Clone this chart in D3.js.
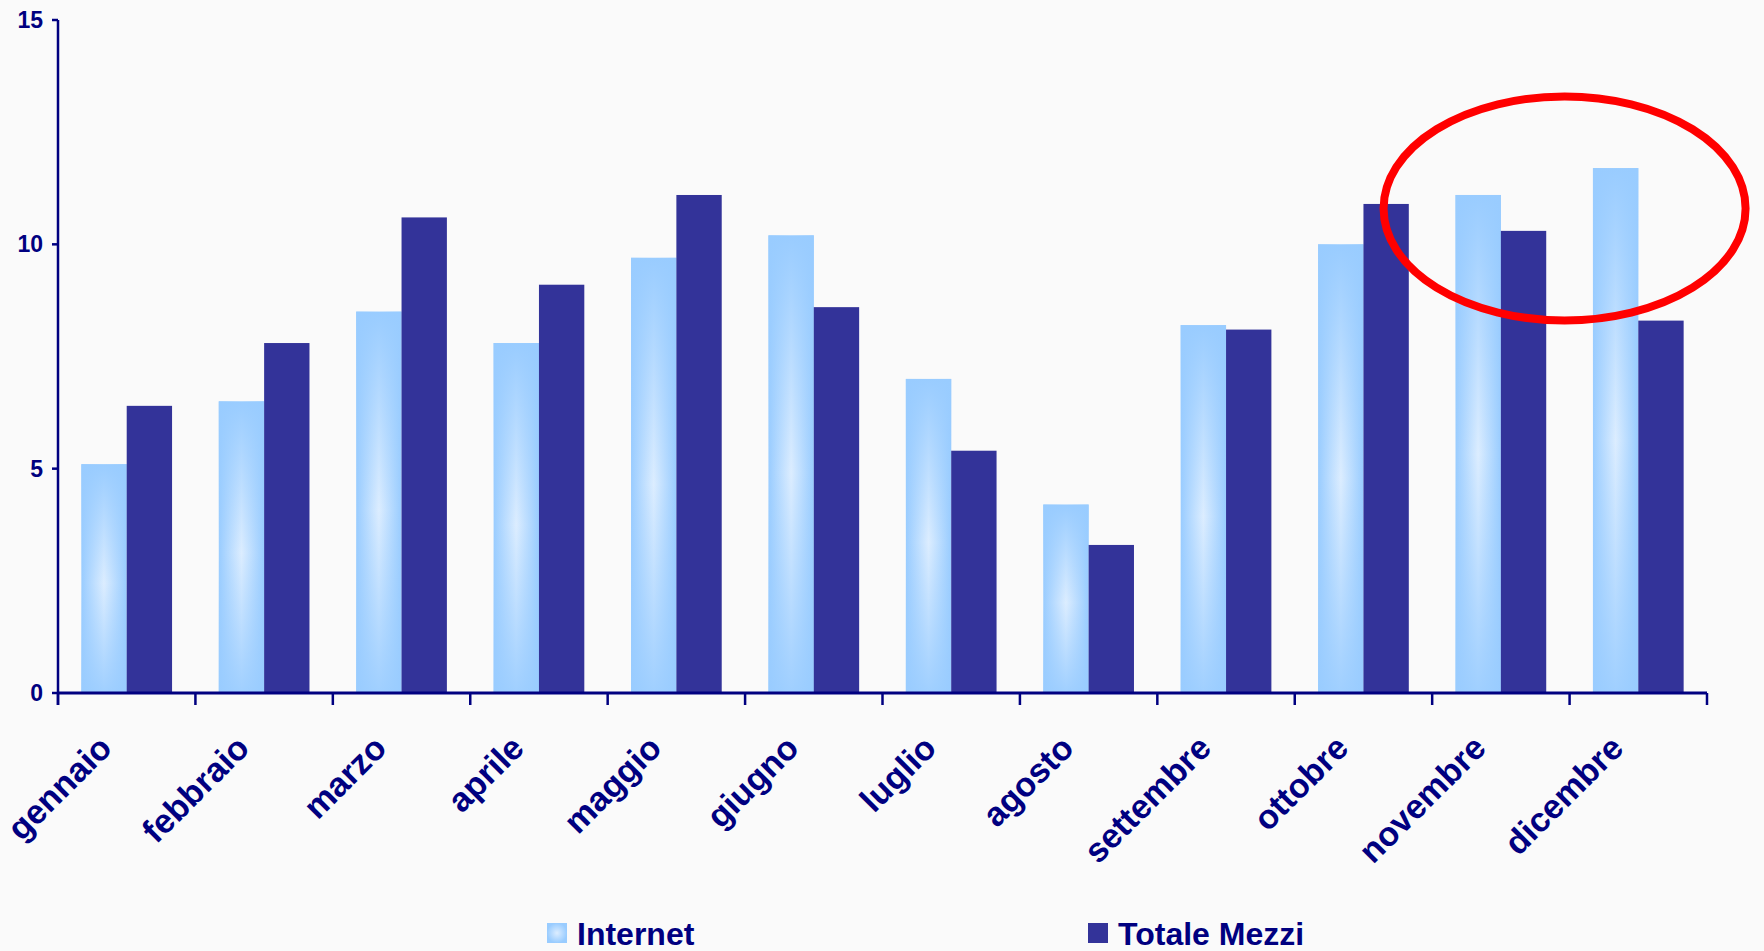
<!DOCTYPE html>
<html>
<head>
<meta charset="utf-8">
<script src="https://cdn.jsdelivr.net/npm/d3@7"></script>
<style>
  body { margin: 0; background: #fafafa; }
  text { font-family: "Liberation Sans", Arial, sans-serif; font-weight: bold; fill: #000080; }
</style>
</head>
<body>
<svg id="chart" width="1764" height="951"></svg>
<script>
const months = ['gennaio', 'febbraio', 'marzo', 'aprile', 'maggio', 'giugno',
  'luglio', 'agosto', 'settembre', 'ottobre', 'novembre', 'dicembre'];
const seriesNames = ['Internet', 'Totale Mezzi'];
const internet = [5.1, 6.5, 8.5, 7.8, 9.7, 10.2, 7.0, 4.2, 8.2, 10.0, 11.1, 11.7];
const totaleMezzi = [6.4, 7.8, 10.6, 9.1, 11.1, 8.6, 5.4, 3.3, 8.1, 10.9, 10.3, 8.3];
const yTicks = [0, 5, 10, 15];

const svg = d3.select('#chart');
const navy = '#000080';
const dark = '#333399';

const x = d3.scaleBand()
  .domain(months)
  .range([58, 1707])
  .paddingInner(0.34)
  .paddingOuter(0.17);

const x1 = d3.scaleBand()
  .domain(seriesNames)
  .range([0, x.bandwidth()]);

const y = d3.scaleLinear()
  .domain([0, 15])
  .range([693, 20]);

// gradients for the light bars
const defs = svg.append('defs');
const hGrad = defs.append('linearGradient')
  .attr('id', 'hgrad')
  .attr('x1', 0).attr('x2', 1).attr('y1', 0).attr('y2', 0);
hGrad.append('stop').attr('offset', '0%').attr('stop-color', '#99ccff');
hGrad.append('stop').attr('offset', '50%').attr('stop-color', '#dcedff');
hGrad.append('stop').attr('offset', '100%').attr('stop-color', '#99ccff');

const vGrad = defs.append('linearGradient')
  .attr('id', 'vgrad')
  .attr('x1', 0).attr('x2', 0).attr('y1', 0).attr('y2', 1);
vGrad.append('stop').attr('offset', '0%').attr('stop-color', '#99ccff').attr('stop-opacity', 1);
vGrad.append('stop').attr('offset', '52%').attr('stop-color', '#99ccff').attr('stop-opacity', 0);
vGrad.append('stop').attr('offset', '100%').attr('stop-color', '#99ccff').attr('stop-opacity', 0.9);

const swGrad = defs.append('radialGradient').attr('id', 'swgrad');
swGrad.append('stop').attr('offset', '0%').attr('stop-color', '#dcedff');
swGrad.append('stop').attr('offset', '100%').attr('stop-color', '#99ccff');

// bars
const groups = svg.append('g')
  .selectAll('g')
  .data(months)
  .join('g')
  .attr('transform', (d) => `translate(${x(d)},0)`);

groups.each(function (m, i) {
  const g = d3.select(this);
  const xi = x1('Internet');
  const w = x1.bandwidth();
  g.append('rect')
    .attr('x', xi).attr('y', y(internet[i]))
    .attr('width', w).attr('height', y(0) - y(internet[i]))
    .attr('fill', 'url(#hgrad)');
  g.append('rect')
    .attr('x', xi).attr('y', y(internet[i]))
    .attr('width', w).attr('height', y(0) - y(internet[i]))
    .attr('fill', 'url(#vgrad)');
  g.append('rect')
    .attr('x', x1('Totale Mezzi')).attr('y', y(totaleMezzi[i]))
    .attr('width', w).attr('height', y(0) - y(totaleMezzi[i]))
    .attr('fill', dark);
});

// y axis
const yAxis = svg.append('g');
yAxis.append('line')
  .attr('x1', 58).attr('x2', 58)
  .attr('y1', y(15)).attr('y2', y(0) + 12)
  .attr('stroke', navy).attr('stroke-width', 2.5);
yAxis.selectAll('line.tick')
  .data(yTicks)
  .join('line')
  .attr('class', 'tick')
  .attr('x1', 52).attr('x2', 58)
  .attr('y1', (d) => y(d)).attr('y2', (d) => y(d))
  .attr('stroke', navy).attr('stroke-width', 2.5);
yAxis.selectAll('text')
  .data(yTicks)
  .join('text')
  .attr('x', 43)
  .attr('y', (d) => y(d))
  .attr('dy', '0.35em')
  .attr('text-anchor', 'end')
  .attr('font-size', 23)
  .text((d) => d);

// x axis
const xAxis = svg.append('g');
xAxis.append('line')
  .attr('x1', 58).attr('x2', 1707)
  .attr('y1', y(0)).attr('y2', y(0))
  .attr('stroke', navy).attr('stroke-width', 3);
xAxis.selectAll('line.tick')
  .data(d3.range(months.length + 1))
  .join('line')
  .attr('class', 'tick')
  .attr('x1', (i) => 58 + i * x.step()).attr('x2', (i) => 58 + i * x.step())
  .attr('y1', y(0)).attr('y2', y(0) + 12)
  .attr('stroke', navy).attr('stroke-width', 2.5);
xAxis.selectAll('text')
  .data(months)
  .join('text')
  .attr('text-anchor', 'end')
  .attr('font-size', 34)
  .attr('transform', (d) => `translate(${x(d) + x.bandwidth() / 2 - 13},${y(0) + 57}) rotate(-45)`)
  .text((d) => d);

// legend
const legend = svg.append('g');
const legendItems = [
  { name: seriesNames[0], x: 547, fill: 'url(#swgrad)' },
  { name: seriesNames[1], x: 1088, fill: dark },
];
legendItems.forEach((item) => {
  legend.append('rect')
    .attr('x', item.x).attr('y', 923)
    .attr('width', 20).attr('height', 20)
    .attr('fill', item.fill);
  legend.append('text')
    .attr('x', item.x + 30).attr('y', 945)
    .attr('font-size', 32)
    .text(item.name);
});

// red highlight ellipse round novembre / dicembre
const nov = x('novembre') + x.bandwidth() / 2;
const dic = x('dicembre') + x.bandwidth() / 2;
svg.append('ellipse')
  .attr('cx', (nov + dic) / 2 - 5)
  .attr('cy', y(10.8))
  .attr('rx', 181)
  .attr('ry', 112)
  .attr('fill', 'none')
  .attr('stroke', '#ff0000')
  .attr('stroke-width', 8);
</script>
</body>
</html>
